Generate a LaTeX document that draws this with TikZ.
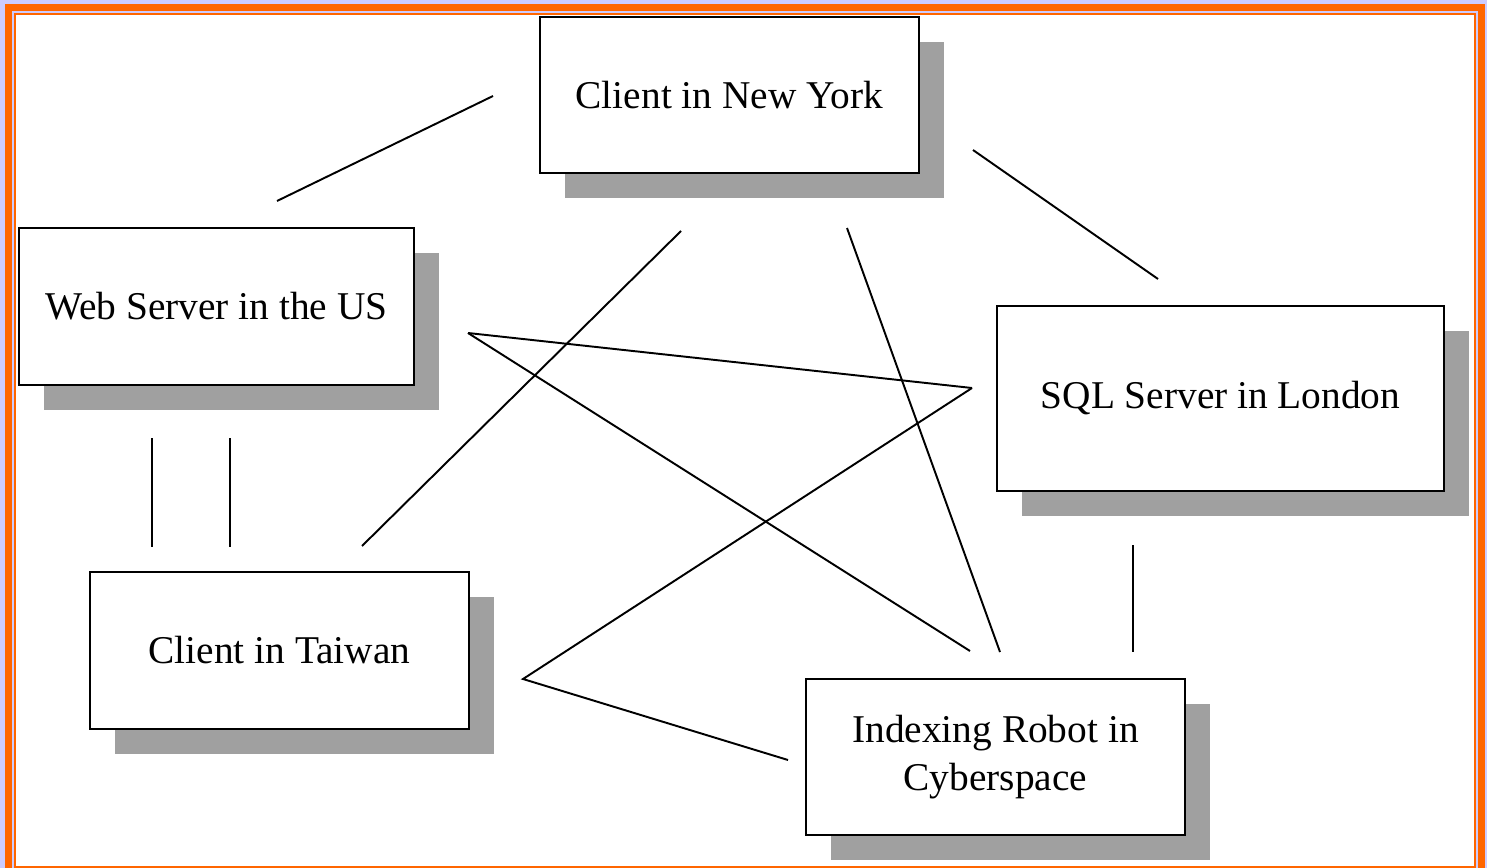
\documentclass[tikz,border=0pt]{standalone}
\usepackage{fontspec}
\setmainfont{Liberation Serif}
\usepackage{tikz}
\usetikzlibrary{positioning,shapes,shadows}
\definecolor{frameorange}{RGB}{255,102,0}
\definecolor{lavender}{RGB}{204,204,255}
\definecolor{shadowgray}{RGB}{160,160,160}
\tikzstyle{box}=[draw, fill=white, rectangle, line width=1.6pt, align=center,
  font=\fontsize{22.4}{27}\selectfont,
  drop shadow={shadow xshift=0.5cm, shadow yshift=-0.5cm, fill=shadowgray, opacity=1}]
\tikzstyle{link}=[draw, line width=1.1pt]
\tikzstyle{input} = [coordinate]

\begin{document}
\begin{tikzpicture}[x=0.02cm, y=-0.02cm]
    % frame
    \useasboundingbox (0,0) rectangle (1487,868);
    \fill[lavender] (0,0) rectangle (1487,868);
    \fill[frameorange] (5,4) rectangle (1485,880);
    \fill[lavender] (12,11) rectangle (1478,880);
    \fill[frameorange] (14,13) rectangle (1476,870);
    \fill[white] (16,15) rectangle (1474,866);

    \node [box, minimum width=7.58cm, minimum height=3.12cm] (newyork) at (729.5,95) {Client in New York};
    \node [box, minimum width=7.9cm, minimum height=3.14cm] (webserver) at (216.5,306.5) {Web Server in the US};
    \node [box, minimum width=8.94cm, minimum height=3.7cm] (sqlserver) at (1220.5,398.5) {SQL Server in London};
    \node [box, minimum width=7.58cm, minimum height=3.14cm] (taiwan) at (279.5,650.5) {Client in Taiwan};
    \node [box, minimum width=7.58cm, minimum height=3.12cm] (robot) at (995.5,757) {Indexing Robot in\\Cyberspace};

    % free ends of the links
    \node [input] (ny-w) at (493,96) {};
    \node [input] (ny-sw) at (681,231) {};
    \node [input] (ny-s) at (847,228) {};
    \node [input] (ny-e) at (973,150) {};
    \node [input] (web-n) at (277,201) {};
    \node [input] (web-e) at (468,333) {};
    \node [input] (web-s1) at (152,438) {};
    \node [input] (web-s2) at (230,438) {};
    \node [input] (sql-n) at (1158,279) {};
    \node [input] (sql-w) at (972,388) {};
    \node [input] (sql-s) at (1133,545) {};
    \node [input] (tw-n1) at (152,547) {};
    \node [input] (tw-n2) at (230,547) {};
    \node [input] (tw-ne) at (362,546) {};
    \node [input] (tw-e) at (523,679) {};
    \node [input] (rob-nw) at (970,651) {};
    \node [input] (rob-n) at (1000,652) {};
    \node [input] (rob-ne) at (1133,652) {};
    \node [input] (rob-w) at (788,760) {};

    \path[link] (web-n) -- (ny-w);
    \path[link] (ny-e) -- (sql-n);
    \path[link] (ny-sw) -- (tw-ne);
    \path[link] (ny-s) -- (rob-n);
    \path[link] (web-e) -- (sql-w);
    \path[link] (web-e) -- (rob-nw);
    \path[link] (sql-w) -- (tw-e) -- (rob-w);
    \path[link] (web-s1) -- (tw-n1);
    \path[link] (web-s2) -- (tw-n2);
    \path[link] (sql-s) -- (rob-ne);
\end{tikzpicture}
\end{document}
